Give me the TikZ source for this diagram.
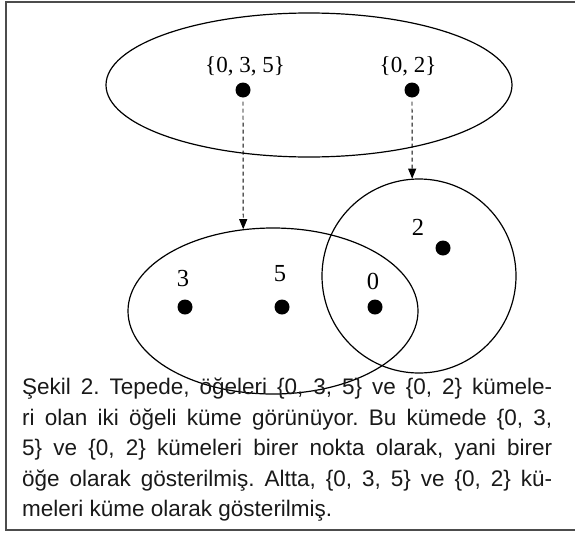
\documentclass[tikz,border=0pt]{standalone}
\usepackage{fontspec}
\setmainfont{Liberation Serif}
\newfontfamily\capfont{Liberation Sans}
\usetikzlibrary{arrows.meta,shapes.geometric}
\begin{document}
\begin{tikzpicture}[x=1pt,y=-1pt,
    dot/.style={circle,fill=black,inner sep=0pt,minimum size=15pt},
    lbl/.style={font=\fontsize{23}{23}\selectfont,inner sep=0pt},
    num/.style={font=\fontsize{24.5}{24.5}\selectfont,inner sep=0pt},
    setline/.style={draw,line width=1.2pt,inner sep=0pt},
    link/.style={dash pattern=on 4pt off 3pt,line width=0.9pt,shorten <=4pt,
      -{Triangle[length=10pt,width=8pt]}}]
  \useasboundingbox (0,0) rectangle (575,533);
  \draw[line width=2.5pt,black!70] (590,2) -- (6,2) -- (6,530) -- (590,530);
  % sets
  \node[setline,ellipse,minimum width=406pt,minimum height=144pt] (top) at (309,85) {};
  \node[setline,ellipse,minimum width=290pt,minimum height=166pt] (low) at (273,311) {};
  \node[setline,circle,minimum size=194pt] (circ) at (419,276) {};
  % points of the top set
  \node[dot] (d035) at (243,90) {};
  \node[dot] (d02) at (412,90) {};
  \node[lbl] (l035) at (245,66) {\{0, 3, 5\}};
  \node[lbl] (l02) at (408,66) {\{0, 2\}};
  % elements
  \node[dot] (d3) at (185,307) {};
  \node[dot] (d5) at (282,307) {};
  \node[dot] (d0) at (375,307) {};
  \node[dot] (d2) at (443,248) {};
  \node[num] (l3) at (183,279) {3};
  \node[num] (l5) at (280,274) {5};
  \node[num] (l0) at (373,281) {0};
  \node[num] (l2) at (418,227) {2};
  \draw[link] (d035) -- (low.110);
  \draw[link] (d02) -- (circ.94);
  % caption
  \node[anchor=north west,inner sep=0pt,text width=530pt,align=justify,
    font=\capfont\fontsize{22.5}{30.5}\selectfont\frenchspacing,text=black!90] (cap) at (22,378)
    {Şekil 2. Tepede, öğeleri \{0, 3, 5\} ve \{0, 2\} kümele-\linebreak
     ri olan iki öğeli küme görünüyor. Bu kümede \{0, 3,\linebreak
     5\} ve \{0, 2\} kümeleri birer nokta olarak, yani birer\linebreak
     öğe olarak gösterilmiş. Altta, \{0, 3, 5\} ve \{0, 2\} kü-\linebreak
     meleri küme olarak gösterilmiş.};
\end{tikzpicture}
\end{document}
